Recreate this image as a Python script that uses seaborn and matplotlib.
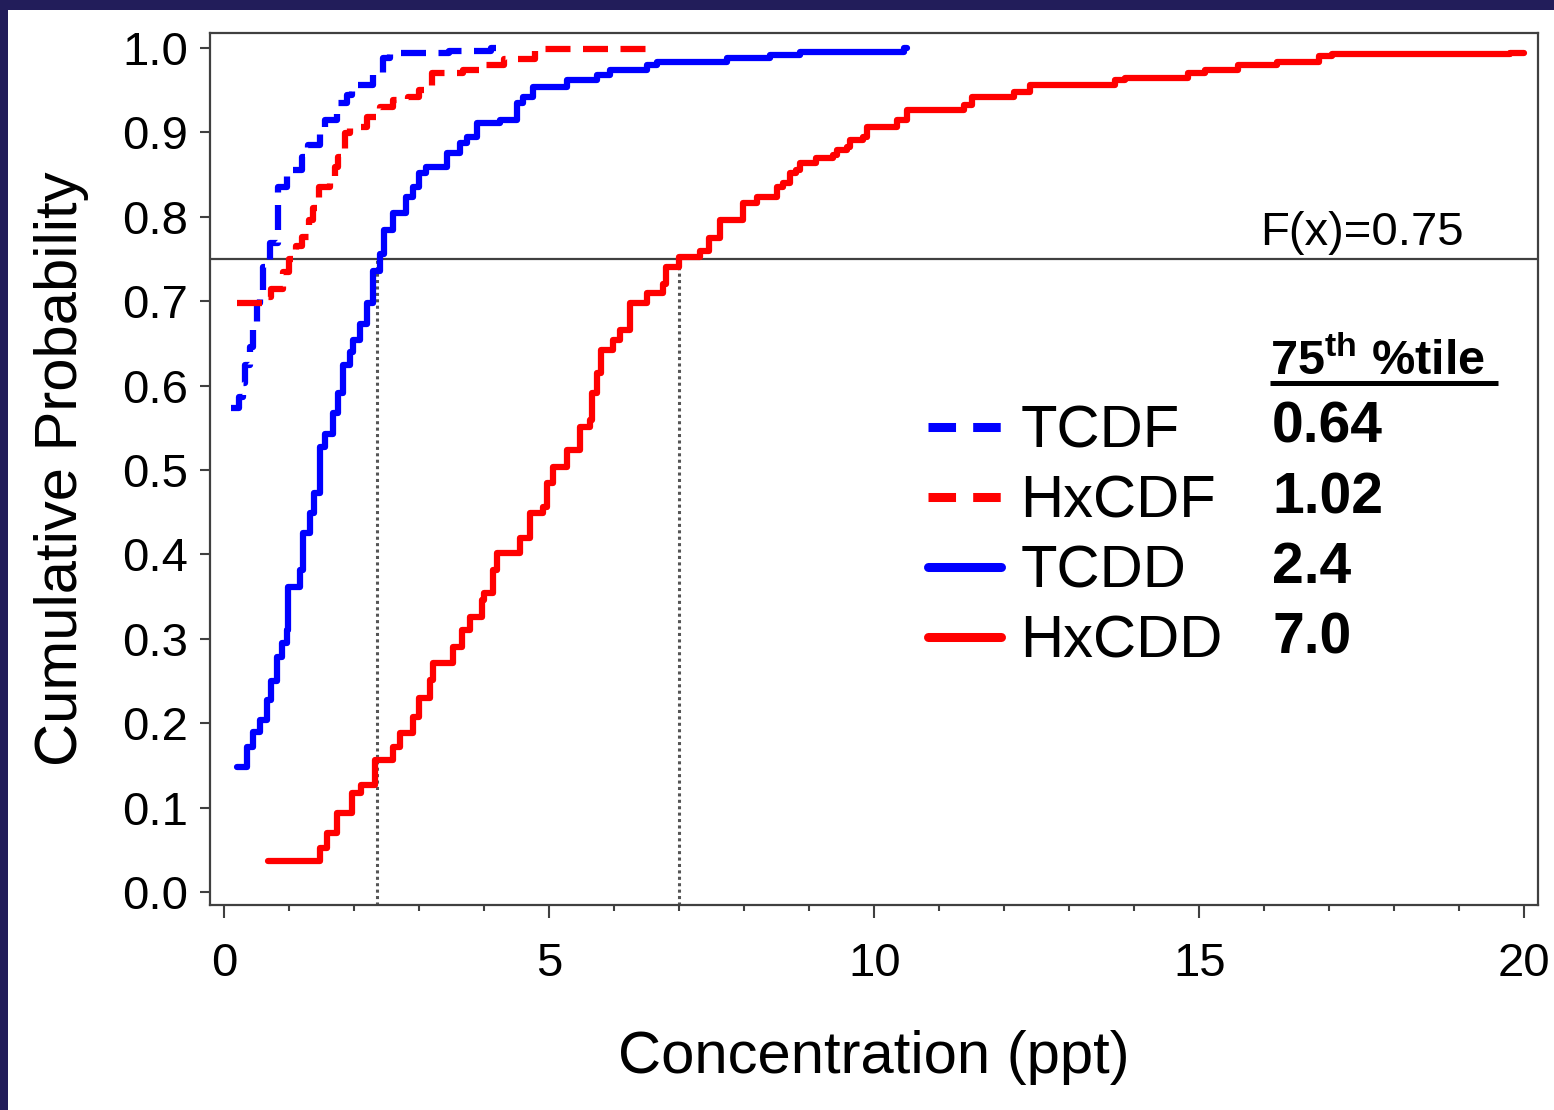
"""Cumulative distribution of dioxin/furan concentrations with 75th percentiles."""

import matplotlib

matplotlib.use("Agg")

import matplotlib.pyplot as plt
import numpy as np
import pandas as pd
import seaborn as sns
from matplotlib.lines import Line2D
from matplotlib.patches import Rectangle
from matplotlib.ticker import MultipleLocator


COMPOUNDS = ["TCDF", "HxCDF", "TCDD", "HxCDD"]
P75_LABELS = ["0.64", "1.02", "2.4", "7.0"]
CROSS_X = [2.35, 7.0]  # where TCDD / HxCDD reach F(x)=0.75
F_LEVEL = 0.75

# step knots: concentration (ppt) and cumulative probability
tcdf_x = [0.10, 0.22, 0.29, 0.32, 0.39, 0.44, 0.50, 0.55, 0.60, 0.70, 0.82, 0.96,
          1.19, 1.29, 1.47, 1.55, 1.73, 1.88, 1.96, 2.28, 2.44, 2.55, 3.45, 4.10, 4.20]
tcdf_p = [0.573, 0.587, 0.603, 0.624, 0.646, 0.669, 0.698, 0.710, 0.740, 0.769, 0.835, 0.855,
          0.871, 0.885, 0.899, 0.915, 0.935, 0.944, 0.956, 0.970, 0.988, 0.994, 0.997, 1.0, 1.0]

hxcdf_x = [0.19, 0.60, 0.72, 0.90, 1.00, 1.10, 1.19, 1.30, 1.36, 1.45, 1.62, 1.70, 1.75,
           1.85, 1.93, 2.19, 2.39, 2.59, 2.82, 3.00, 3.19, 3.67, 4.00, 4.30, 4.78, 6.55]
hxcdf_p = [0.698, 0.705, 0.715, 0.735, 0.750, 0.765, 0.776, 0.796, 0.810, 0.835, 0.844, 0.859,
           0.871, 0.899, 0.906, 0.918, 0.930, 0.938, 0.942, 0.950, 0.970, 0.974, 0.980, 0.987,
           0.999, 0.999]

tcdd_x = [0.19, 0.35, 0.44, 0.55, 0.65, 0.72, 0.81, 0.88, 0.96, 0.98, 1.16, 1.21, 1.32,
          1.38, 1.47, 1.55, 1.67, 1.75, 1.83, 1.93, 1.98, 2.08, 2.19, 2.28, 2.39, 2.45,
          2.60, 2.80, 2.90, 3.00, 3.10, 3.42, 3.62, 3.73, 3.88, 4.24, 4.50, 4.60, 4.75,
          5.27, 5.73, 5.93, 6.50, 6.65, 7.73, 8.40, 8.85, 10.45, 10.50]
tcdd_p = [0.148, 0.172, 0.190, 0.204, 0.227, 0.250, 0.278, 0.295, 0.310, 0.361, 0.381, 0.425,
          0.449, 0.473, 0.527, 0.543, 0.567, 0.591, 0.624, 0.640, 0.654, 0.673, 0.698, 0.736,
          0.756, 0.784, 0.805, 0.824, 0.835, 0.852, 0.859, 0.875, 0.887, 0.895, 0.911, 0.915,
          0.935, 0.942, 0.954, 0.962, 0.968, 0.974, 0.980, 0.983, 0.988, 0.992, 0.995, 1.0, 1.0]

hxcdd_x = [0.67, 1.47, 1.58, 1.73, 1.96, 2.10, 2.32, 2.60, 2.70, 2.90, 3.00, 3.16, 3.21,
           3.52, 3.65, 3.78, 3.96, 4.00, 4.13, 4.19, 4.55, 4.70, 4.90, 4.96, 5.06, 5.27,
           5.47, 5.62, 5.65, 5.73, 5.80, 5.98, 6.08, 6.24, 6.50, 6.75, 6.80, 7.00, 7.32,
           7.45, 7.62, 7.98, 8.19, 8.50, 8.60, 8.70, 8.80, 8.85, 9.10, 9.37, 9.42, 9.58,
           9.63, 9.83, 9.88, 10.35, 10.50, 11.38, 11.50, 12.15, 12.40, 13.70, 13.85, 14.82,
           15.08, 15.60, 16.19, 16.84, 17.04, 19.78, 20.00]
hxcdd_p = [0.037, 0.052, 0.070, 0.094, 0.117, 0.127, 0.156, 0.172, 0.188, 0.207, 0.230, 0.251,
           0.271, 0.290, 0.310, 0.326, 0.346, 0.354, 0.381, 0.402, 0.420, 0.449, 0.456, 0.484,
           0.504, 0.524, 0.551, 0.559, 0.591, 0.615, 0.642, 0.654, 0.666, 0.698, 0.710, 0.720,
           0.740, 0.752, 0.760, 0.775, 0.796, 0.816, 0.824, 0.835, 0.840, 0.852, 0.855, 0.864,
           0.870, 0.873, 0.879, 0.883, 0.891, 0.895, 0.906, 0.915, 0.926, 0.932, 0.942, 0.948,
           0.956, 0.962, 0.964, 0.970, 0.974, 0.980, 0.983, 0.990, 0.993, 0.994, 0.994]

COLORS = {"TCDF": "#0000ff", "HxCDF": "#ff0000", "TCDD": "#0000ff", "HxCDD": "#ff0000"}
DASHES = {"TCDF": (4, 2), "HxCDF": (4, 2), "TCDD": "", "HxCDD": ""}


def build_frame() -> pd.DataFrame:
    """Stack the four step curves into one long table."""
    parts = []
    for name, xs, ps in zip(COMPOUNDS,
                            [tcdf_x, hxcdf_x, tcdd_x, hxcdd_x],
                            [tcdf_p, hxcdf_p, tcdd_p, hxcdd_p]):
        parts.append(pd.DataFrame({"conc": xs, "prob": ps, "compound": name}))
    return pd.concat(parts, ignore_index=True)


sns.set_style("ticks")
plt.rcParams["font.family"] = ["Liberation Sans", "DejaVu Sans"]
plt.rcParams["mathtext.fontset"] = "custom"
plt.rcParams["mathtext.rm"] = "Liberation Sans"
plt.rcParams["mathtext.bf"] = "Liberation Sans:bold"
plt.rcParams["text.color"] = "black"
plt.rcParams["axes.labelcolor"] = "black"

fig = plt.figure(figsize=(15.54, 11.10), dpi=100)
fig.patch.set_facecolor("#221d5a")
fig.add_artist(Rectangle((8 / 1554, 0), 1, 1100 / 1110, transform=fig.transFigure,
                         facecolor="white", edgecolor="none", zorder=-5))
ax = fig.add_axes([0.1351, 0.1847, 0.8546, 0.7856])
ax.set_facecolor("white")

df = build_frame()
sns.lineplot(
    data=df, x="conc", y="prob", hue="compound", style="compound",
    hue_order=COMPOUNDS, style_order=COMPOUNDS, palette=COLORS, dashes=DASHES,
    estimator=None, sort=False, drawstyle="steps-post", lw=4.5, legend=False, ax=ax,
)

ylo, yhi = -0.0154, 1.0178
ax.set_xlim(-0.223, 20.21)
ax.set_ylim(ylo, yhi)

ax.axhline(F_LEVEL, color="#404040", lw=1.6, zorder=1)
frac = (F_LEVEL - ylo) / (yhi - ylo)
for xv in CROSS_X:
    ax.axvline(xv, ymin=0, ymax=frac, color="#555555", lw=2.2,
               linestyle=(0, (1, 1.1)), zorder=1)

ax.text(15.93, 0.767, "F(x)=0.75", fontsize=34, va="baseline", ha="left")

# percentile column
ax.text(16.08, 0.6125, r"$\mathbf{75^{th}}$ %tile", fontsize=35, fontweight="bold",
        va="baseline", ha="left")
value_y = [0.532, 0.449, 0.366, 0.283]
for label, yv in zip(P75_LABELS, value_y):
    ax.text(16.12, yv, label, fontsize=41, fontweight="bold", va="baseline", ha="left")

# underline under the header
ax.plot([16.08, 19.6], [0.603, 0.603], color="black", lw=3.6, solid_capstyle="butt",
        clip_on=False)

handles = [
    Line2D([], [], color=COLORS[name], lw=6.5,
           dashes=(3.05, 1.9) if DASHES[name] else (None, None))
    for name in COMPOUNDS
]
leg = ax.legend(handles, COMPOUNDS, loc="upper left",
                bbox_to_anchor=(928 / 1554, 1 - 405 / 1110),
                bbox_transform=fig.transFigure, frameon=False, fontsize=43,
                handlelength=1.22, handletextpad=0.33, labelspacing=0.25,
                borderpad=0, borderaxespad=0)

ax.set_xticks([0, 5, 10, 15, 20])
ax.xaxis.set_minor_locator(MultipleLocator(1))
ax.set_yticks(np.arange(0, 1.01, 0.1))
ax.set_yticklabels([f"{v:.1f}" for v in np.arange(0, 1.01, 0.1)])
ax.tick_params(axis="both", which="major", labelsize=34, width=1.5, color="#404040",
               labelcolor="black")
ax.tick_params(axis="y", which="major", length=7.5, pad=8)
ax.tick_params(axis="x", which="major", length=9.5, pad=17)
ax.tick_params(axis="x", which="minor", length=4, width=1.5, color="#404040")
for spine in ax.spines.values():
    spine.set_color("#404040")
    spine.set_linewidth(1.6)

ax.set_xlabel("Concentration (ppt)", fontsize=43, labelpad=32)
ax.set_ylabel("Cumulative Probability", fontsize=43, labelpad=24)

fig.savefig("out.png", dpi=100, facecolor=fig.get_facecolor())
plt.close(fig)
